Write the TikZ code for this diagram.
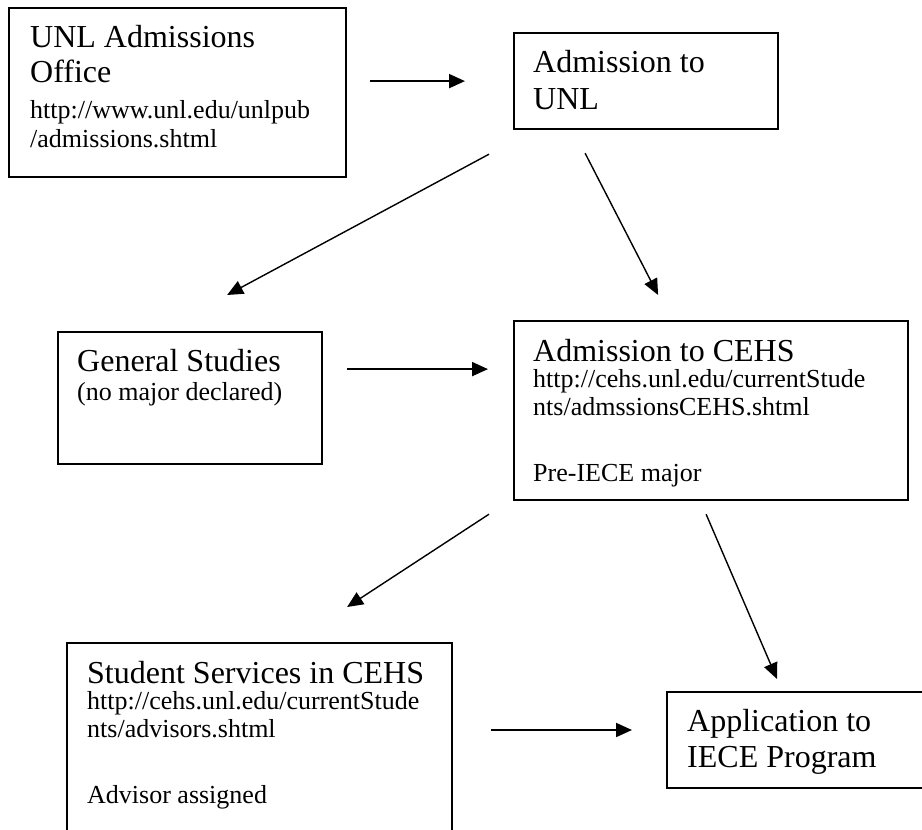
\documentclass[tikz,border=0pt]{standalone}
\usepackage{fontspec}
\setmainfont{Liberation Serif}
\usetikzlibrary{arrows.meta}

\begin{document}
\begin{tikzpicture}[x=1pt, y=-1pt,
  box/.style={draw, line width=2.2pt, inner sep=0pt, anchor=north west},
  ttl/.style={anchor=base west, inner sep=0pt, font=\fontsize{32}{36}\selectfont},
  url/.style={anchor=base west, inner sep=0pt, font=\fontsize{26}{29}\selectfont},
  arr/.style={-{Triangle[length=16pt, width=14pt]}, line width=1.4pt},
  harr/.style={arr, line width=2pt}]
  \clip (0,0) rectangle (922,830);
  \node[box, minimum width=337pt, minimum height=169pt] (unl) at (8,7) {};
  \node[box, minimum width=264pt, minimum height=96pt] (uadm) at (513,32) {};
  \node[box, minimum width=264pt, minimum height=132pt] (gen) at (57,331) {};
  \node[box, minimum width=394pt, minimum height=179pt] (cehs) at (513,320) {};
  \node[box, minimum width=385pt, minimum height=218pt] (serv) at (66,642) {};
  \node[box, minimum width=300pt, minimum height=96pt] (appl) at (666,691) {};

  \node[ttl] (unl-1) at (30,47) {UNL Admissions};
  \node[ttl] (unl-2) at (30,82) {Office};
  \node[url] (unl-3) at (30,118) {http://www.unl.edu/unlpub};
  \node[url] (unl-4) at (30,147) {/admissions.shtml};

  \node[ttl] (uadm-1) at (533,72) {Admission to};
  \node[ttl] (uadm-2) at (533,109) {UNL};

  \node[ttl] (gen-1) at (77,371) {General Studies};
  \node[url] (gen-2) at (77,400) {(no major declared)};

  \node[ttl] (cehs-1) at (533,361) {Admission to CEHS};
  \node[url] (cehs-2) at (533,387) {http://cehs.unl.edu/currentStude};
  \node[url] (cehs-3) at (533,415) {nts/admssionsCEHS.shtml};
  \node[url] (cehs-4) at (533,481) {Pre-IECE major};

  \node[ttl] (serv-1) at (87,683) {Student Services in CEHS};
  \node[url] (serv-2) at (87,709) {http://cehs.unl.edu/currentStude};
  \node[url] (serv-3) at (87,737) {nts/advisors.shtml};
  \node[url] (serv-4) at (87,803) {Advisor assigned};

  \node[ttl] (appl-1) at (687,731) {Application to};
  \node[ttl] (appl-2) at (687,767) {IECE Program};

  % Flèches : elles ne touchent pas les cadres, d'où les décalages
  \draw[harr] ([xshift=23pt, yshift=11.5pt]unl.east) -- ([xshift=-48pt]uadm.west);
  \draw[arr] ([xshift=-24pt, yshift=-24pt]uadm.south west) -- ([xshift=37pt, yshift=36pt]gen.north);
  \draw[arr] ([xshift=-61pt, yshift=-23pt]uadm.south) -- ([xshift=-53pt, yshift=25pt]cehs.north);
  \draw[harr] ([xshift=24pt, yshift=29pt]gen.east) -- ([xshift=-25pt, yshift=41.5pt]cehs.west);
  \draw[arr] ([xshift=-24pt, yshift=-13pt]cehs.south west) -- ([xshift=87.5pt, yshift=35pt]serv.north);
  \draw[arr] ([xshift=-5pt, yshift=-13pt]cehs.south) -- ([xshift=111pt, yshift=12pt]appl.north west);
  \draw[harr] ([xshift=38pt, yshift=-88pt]serv.north east) -- ([xshift=-34pt, yshift=-39pt]appl.north west);
\end{tikzpicture}
\end{document}
